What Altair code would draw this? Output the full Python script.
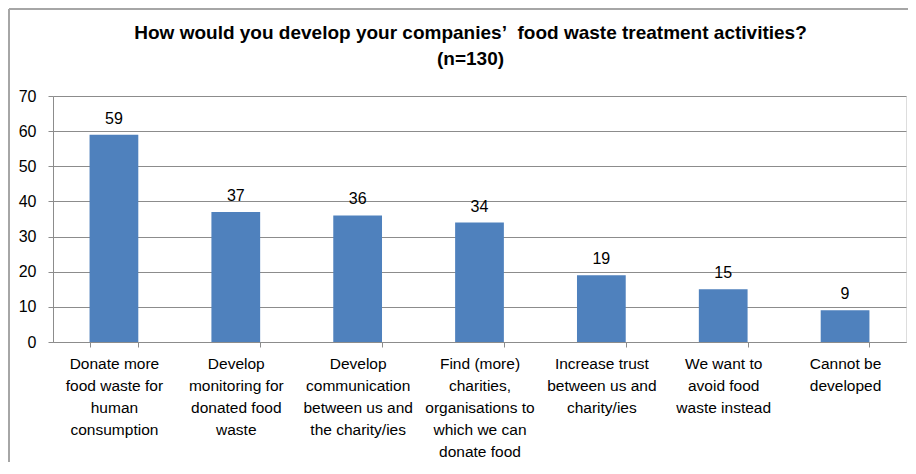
import altair as alt
import pandas as pd

categories = [
    "Donate more|food waste for|human|consumption",
    "Develop|monitoring for|donated food|waste",
    "Develop|communication|between us and|the charity/ies",
    "Find (more)|charities,|organisations to|which we can|donate food",
    "Increase trust|between us and|charity/ies",
    "We want to|avoid food|waste instead",
    "Cannot be|developed",
]
values = [59, 37, 36, 34, 19, 15, 9]
y_ticks = [0, 10, 20, 30, 40, 50, 60, 70]
title_lines = [
    "How would you develop your companies\u2019\u00a0 food waste treatment activities?",
    "(n=130)",
]

df = pd.DataFrame({"category": categories, "value": values})
FONT = "Liberation Sans"
GRAY = "#8c8c8c"

x_enc = alt.X(
    "category:N",
    sort=None,
    title=None,
    scale=alt.Scale(paddingInner=0.6, paddingOuter=0.3),
    axis=alt.Axis(
        labelAngle=0,
        labelExpr="split(datum.label, '|')",
        labelFont=FONT,
        labelFontSize=15.5,
        labelColor="#000000",
        labelLineHeight=22,
        labelPadding=9,
        labelLimit=0,
        labelOverlap=False,
        labelBaseline="top",
        tickBand="extent",
        tickSize=5,
        tickColor=GRAY,
        domainColor=GRAY,
        grid=False,
    ),
)
y_enc = alt.Y(
    "value:Q",
    title=None,
    scale=alt.Scale(domain=[0, 70], nice=False),
    axis=alt.Axis(
        values=y_ticks,
        labelFont=FONT,
        labelFontSize=16,
        labelColor="#000000",
        labelPadding=12,
        labelOverlap=False,
        labelFlush=False,
        tickSize=5,
        tickColor=GRAY,
        domainColor=GRAY,
        gridColor=GRAY,
        grid=True,
    ),
)

base = alt.Chart(df)
bars = base.mark_bar(color="#4f81bd").encode(x=x_enc, y=y_enc)
labels = base.mark_text(
    font=FONT, fontSize=16, color="#000000", baseline="bottom", dy=-8
).encode(x=x_enc, y=y_enc, text="value:Q")

frame_left = base.mark_rule(color="#a6a6a6", strokeWidth=2).encode(
    x=alt.value(-44), y=alt.value(-87), y2=alt.value(400)
)
frame_top = base.mark_rule(color="#a6a6a6", strokeWidth=2).encode(
    x=alt.value(-44), x2=alt.value(920), y=alt.value(-87)
)

chart = (
    alt.layer(bars, labels, frame_left, frame_top)
    .properties(
        width=853,
        height=246,
        title=alt.TitleParams(
            text=title_lines,
            font=FONT,
            fontSize=19,
            fontWeight="bold",
            color="#000000",
            anchor="middle",
            frame="group",
            lineHeight=26,
            offset=-61,
            dx=-9,
        ),
        autosize=alt.AutoSizeParams(type="none"),
        padding={"left": 45, "top": 88, "right": 2, "bottom": 120},
    )
    .configure_view(stroke=None)
    .configure(background="#ffffff")
)

chart.save("out.html", embed_options={"renderer": "svg", "actions": False})
